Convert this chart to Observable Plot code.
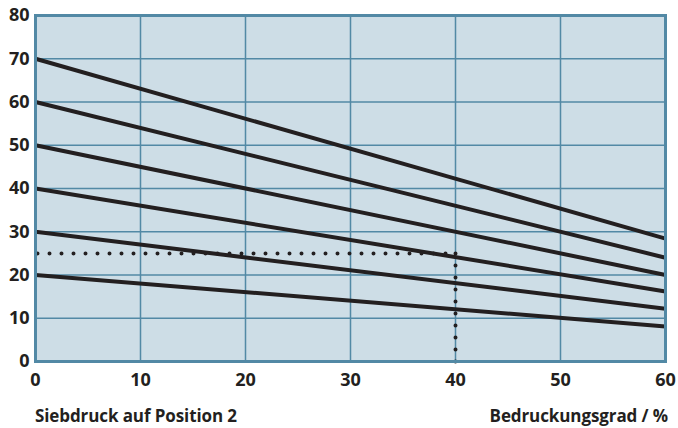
<!DOCTYPE html>
<html>
<head>
<meta charset="utf-8">
<script src="https://cdn.jsdelivr.net/npm/d3@7"></script>
<script src="https://cdn.jsdelivr.net/npm/@observablehq/plot@0.6"></script>
<style>
  html, body { margin: 0; padding: 0; background: #fff; }
  #chart svg { display: block; }
  #chart svg text { font-size: 18px !important; font-weight: 700 !important; font-family: "Open Sans", sans-serif; fill: #231f20; }
  .caption { display: flex; justify-content: space-between; width: 678px; box-sizing: border-box;
    padding: 0 10px 0 35px; font-family: "Open Sans", sans-serif; font-weight: 700; font-size: 17px;
    color: #231f20; margin-top: 14px; line-height: 20px; height: 20px; letter-spacing: -0.1px; }
</style>
</head>
<body>
<div id="chart"></div>
<div class="caption"><span>Siebdruck auf Position 2</span><span>Bedruckungsgrad / %</span></div>
<script>
// Data
const coverageStart = 0;
const coverageEnd = 60;
const startValues = [70, 60, 50, 40, 30, 20];
const endValues = [28.4, 24.0, 20.0, 16.2, 12.2, 8.1];
const xTicks = [0, 10, 20, 30, 40, 50, 60];
const yTicks = [0, 10, 20, 30, 40, 50, 60, 70, 80];
const readX = 40;
const readY = 25;

const lines = startValues.map((v, i) => ({x1: coverageStart, y1: v, x2: coverageEnd, y2: endValues[i]}));
const gridColor = "#5289a5";
const ink = "#231f20";

const chart = Plot.plot({
  width: 678,
  height: 392,
  marginTop: 15,
  marginBottom: 31,
  marginLeft: 35,
  marginRight: 13,
  style: {fontFamily: "'Open Sans', sans-serif", fontSize: "18px", fontWeight: 700, color: ink, background: "#fff"},
  x: {domain: [0, 60], ticks: xTicks, label: null, tickSize: 0, tickPadding: 13},
  y: {domain: [0, 80], ticks: yTicks, label: null, tickSize: 0, tickPadding: 6},
  marks: [
    Plot.frame({fill: "#cddde6"}),
    Plot.gridX(xTicks, {stroke: gridColor, strokeOpacity: 1, strokeWidth: 1.5}),
    Plot.gridY(yTicks, {stroke: gridColor, strokeOpacity: 1, strokeWidth: 1.5}),
    Plot.link(lines, {x1: "x1", y1: "y1", x2: "x2", y2: "y2", stroke: ink, strokeWidth: 4}),
    Plot.link([{x1: coverageStart, y1: readY, x2: readX, y2: readY}], {x1: "x1", y1: "y1", x2: "x2", y2: "y2",
      stroke: ink, strokeWidth: 4, strokeLinecap: "round", strokeDasharray: "0,12", dx: 2}),
    Plot.link([{x1: readX, y1: 0, x2: readX, y2: readY}], {x1: "x1", y1: "y1", x2: "x2", y2: "y2",
      stroke: ink, strokeWidth: 4, strokeLinecap: "round", strokeDasharray: "0,12"}),
    Plot.frame({stroke: gridColor, strokeWidth: 3}),
    Plot.axisX(xTicks, {tickSize: 0, tickPadding: 12}),
    Plot.axisY(yTicks, {tickSize: 0, tickPadding: 6})
  ]
});
document.getElementById("chart").appendChild(chart);
</script>
</body>
</html>
